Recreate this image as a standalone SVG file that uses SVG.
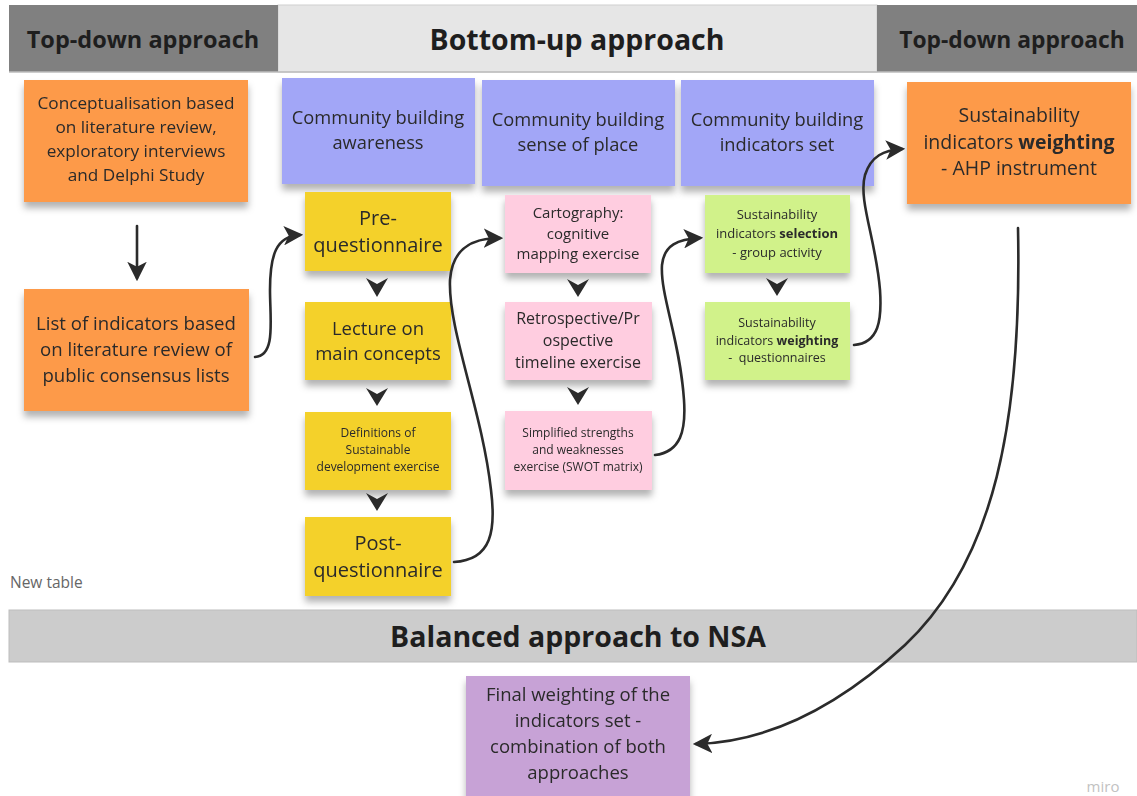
<svg xmlns="http://www.w3.org/2000/svg" width="1137" height="796" viewBox="0 0 1137 796">
<style>
text{font-family:"Open Sans","Noto Sans","DejaVu Sans",sans-serif;fill:#2a2a2a;text-anchor:middle}
.h{font-weight:bold;fill:#1e1e1e}
.b{font-weight:bold}
.conn{fill:none;stroke:#2b2b2b;stroke-width:2.6;stroke-linecap:round}
.chev{fill:#2b2b2b}
.note{filter:url(#sh)}
</style>
<defs>
<filter id="sh" x="-10%" y="-10%" width="120%" height="130%">
<feDropShadow dx="0" dy="6" stdDeviation="3.5" flood-color="#000" flood-opacity="0.3"/>
</filter>
<marker id="ah" viewBox="0 0 12 12" refX="10" refY="6" markerWidth="7.5" markerHeight="7.5" orient="auto" markerUnits="strokeWidth">
<path d="M0,0 L12,6 L0,12 L3,6 Z" fill="#2b2b2b"/>
</marker>
</defs>
<rect width="1137" height="796" fill="#ffffff"/>

<g id="header">
<rect x="278" y="5" width="599" height="67" fill="#e6e6e6" stroke="#cfcfcf" stroke-width="1"/>
<rect x="9" y="5" width="269" height="67" fill="#808080"/>
<rect x="877" y="5" width="260" height="67" fill="#808080"/>
<line x1="9" y1="72" x2="1137" y2="72" stroke="#bdbdbd" stroke-width="1.5"/>
<text class="h" x="143" y="48" font-size="23.5">Top-down approach</text>
<text class="h" x="577" y="50" font-size="28.5">Bottom-up approach</text>
<text class="h" x="1012" y="48" font-size="22.8">Top-down approach</text>
</g>

<g id="footer-bar">
<rect x="9" y="610" width="1128" height="52" fill="#cccccc" stroke="#bdbdbd" stroke-width="1"/>
<text class="h" x="578" y="647" font-size="28.5">Balanced approach to NSA</text>
</g>

<text x="10" y="588" font-size="15.5" style="text-anchor:start;fill:#666">New table</text>
<text x="1103" y="792" font-size="15" style="fill:#c2c2c2">miro</text>

<g id="n-concept" class="note">
<rect x="24" y="80" width="224" height="122" fill="#fd9a4a"/>
<text font-size="17.2"><tspan x="136" y="109">Conceptualisation based</tspan><tspan x="136" y="133">on literature review,</tspan><tspan x="136" y="157">exploratory interviews</tspan><tspan x="136" y="181">and Delphi Study</tspan></text>
</g>
<g id="n-list" class="note">
<rect x="24" y="289" width="225" height="122" fill="#fd9a4a"/>
<text font-size="18.6"><tspan x="136" y="330">List of indicators based</tspan><tspan x="136" y="356">on literature review of</tspan><tspan x="136" y="382">public consensus lists</tspan></text>
</g>

<g id="n-awareness" class="note">
<rect x="282" y="78" width="193" height="106" fill="#a2a6f7"/>
<text font-size="18.3"><tspan x="378" y="124">Community building</tspan><tspan x="378" y="149">awareness</tspan></text>
</g>
<g id="n-sense" class="note">
<rect x="482" y="80" width="193" height="106" fill="#a2a6f7"/>
<text font-size="18.3"><tspan x="578" y="126">Community building</tspan><tspan x="578" y="151">sense of place</tspan></text>
</g>
<g id="n-set" class="note">
<rect x="681" y="80" width="193" height="106" fill="#a2a6f7"/>
<text font-size="18.3"><tspan x="777" y="126">Community building</tspan><tspan x="777" y="151">indicators set</tspan></text>
</g>
<g id="n-ahp" class="note">
<rect x="907" y="82" width="224" height="122" fill="#fd9a4a"/>
<text font-size="19.5"><tspan x="1019" y="122">Sustainability</tspan><tspan x="1019" y="149">indicators <tspan class="b">weighting</tspan></tspan><tspan x="1019" y="175">- AHP instrument</tspan></text>
</g>

<g id="n-pre" class="note">
<rect x="305" y="192" width="146" height="79" fill="#f4d12c"/>
<text font-size="20"><tspan x="378" y="225">Pre-</tspan><tspan x="378" y="252">questionnaire</tspan></text>
</g>
<g id="n-lecture" class="note">
<rect x="305" y="302" width="146" height="78" fill="#f4d12c"/>
<text font-size="18.5"><tspan x="378" y="335">Lecture on</tspan><tspan x="378" y="360">main concepts</tspan></text>
</g>
<g id="n-defs" class="note">
<rect x="305" y="412" width="146" height="78" fill="#f4d12c"/>
<text font-size="12"><tspan x="378" y="437">Definitions of</tspan><tspan x="378" y="454">Sustainable</tspan><tspan x="378" y="471">development exercise</tspan></text>
</g>
<g id="n-post" class="note">
<rect x="305" y="517" width="146" height="79" fill="#f4d12c"/>
<text font-size="20"><tspan x="378" y="550">Post-</tspan><tspan x="378" y="577">questionnaire</tspan></text>
</g>

<g id="n-carto" class="note">
<rect x="505" y="195" width="146" height="78" fill="#ffcde0"/>
<text font-size="15"><tspan x="578" y="218">Cartography:</tspan><tspan x="578" y="239">cognitive</tspan><tspan x="578" y="259">mapping exercise</tspan></text>
</g>
<g id="n-retro" class="note">
<rect x="505" y="302" width="147" height="78" fill="#ffcde0"/>
<text font-size="16"><tspan x="578" y="324">Retrospective/Pr</tspan><tspan x="578" y="346">ospective</tspan><tspan x="578" y="368">timeline exercise</tspan></text>
</g>
<g id="n-swot" class="note">
<rect x="505" y="411" width="147" height="79" fill="#ffcde0"/>
<text font-size="12"><tspan x="578" y="437">Simplified strengths</tspan><tspan x="578" y="454">and weaknesses</tspan><tspan x="578" y="471">exercise (SWOT matrix)</tspan></text>
</g>

<g id="n-selection" class="note">
<rect x="705" y="195" width="145" height="78" fill="#d1f28a"/>
<text font-size="13"><tspan x="777" y="219">Sustainability</tspan><tspan x="777" y="238">indicators <tspan class="b">selection</tspan></tspan><tspan x="777" y="257">- group activity</tspan></text>
</g>
<g id="n-weighting" class="note">
<rect x="705" y="302" width="145" height="78" fill="#d1f28a"/>
<text font-size="12.5"><tspan x="777" y="327">Sustainability</tspan><tspan x="777" y="345">indicators <tspan class="b">weighting</tspan></tspan><tspan x="777" y="362">-&#160; questionnaires</tspan></text>
</g>

<g id="n-final" class="note">
<rect x="466" y="676" width="224" height="124" fill="#c7a2d6"/>
<text font-size="18.5"><tspan x="578" y="701">Final weighting of the</tspan><tspan x="578" y="727">indicators set -</tspan><tspan x="578" y="753">combination of both</tspan><tspan x="578" y="779">approaches</tspan></text>
</g>

<g id="connectors">
<path class="conn" d="M137,226 L137,278" marker-end="url(#ah)"/>
<path class="conn" d="M255,357 C276,356 270,320 270,290 C270,255 276,236 300,235" marker-end="url(#ah)"/>
<path class="conn" d="M454,562 C492,560 496,530 491,490 C482,410 448,330 450,280 C452,250 470,238 500,238" marker-end="url(#ah)"/>
<path class="conn" d="M655,455 C681,452 686,430 684,400 C680,340 660,295 662,265 C664,245 678,239 700,238" marker-end="url(#ah)"/>
<path class="conn" d="M854,345 C879,343 882,320 880,290 C876,240 858,200 865,175 C871,156 884,150 902,149" marker-end="url(#ah)"/>
<path class="conn" d="M1018,228 C1022,420 995,560 905,645 C840,705 770,742 696,744" marker-end="url(#ah)"/>
<path class="chev" d="M366,278 L377,284 L388,278 L377,297 Z"/>
<path class="chev" d="M366,388 L377,394 L388,388 L377,406 Z"/>
<path class="chev" d="M366,493 L377,499 L388,493 L377,511 Z"/>
<path class="chev" d="M567,279 L578,285 L589,279 L578,297 Z"/>
<path class="chev" d="M567,387 L578,393 L589,387 L578,405 Z"/>
<path class="chev" d="M766,278 L777,284 L788,278 L777,296 Z"/>
</g>
</svg>
